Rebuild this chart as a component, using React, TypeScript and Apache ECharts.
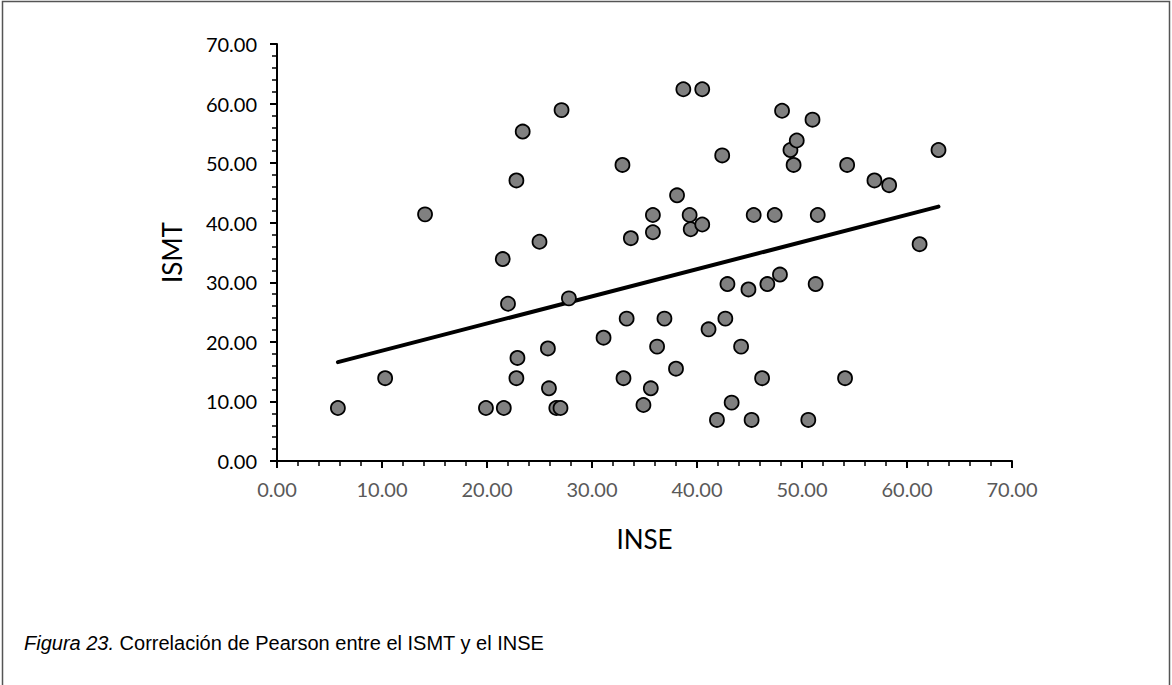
import React, { useEffect, useRef } from "react";
import * as echarts from "echarts";

const inse: number[] = [
  5.8, 10.3, 14.1, 19.9, 21.5, 21.6, 22.0, 22.8, 22.9, 22.8, 23.4, 25.0, 25.8, 25.9, 26.6, 27.0,
  27.1, 27.8, 31.1, 32.9, 33.0, 33.3, 33.7, 34.9, 35.6, 35.8, 35.8, 36.2, 36.9, 38.0, 38.1, 38.7,
  39.3, 39.4, 40.5, 40.5, 41.1, 41.9, 42.4, 42.7, 42.9, 43.3, 44.2, 44.9, 45.2, 45.4, 46.2, 46.7,
  47.4, 47.9, 48.1, 48.9, 49.2, 49.5, 50.6, 51.0, 51.3, 51.5, 54.1, 54.3, 56.9, 58.3, 61.2, 63.0,
];
const ismt: number[] = [
  8.9, 13.9, 41.4, 8.9, 33.9, 8.9, 26.4, 47.1, 17.3, 13.9, 55.3, 36.8, 18.9, 12.2, 8.9, 8.9,
  58.9, 27.3, 20.7, 49.7, 13.9, 23.9, 37.4, 9.4, 12.2, 41.3, 38.4, 19.2, 23.9, 15.5, 44.6, 62.4,
  41.3, 38.9, 62.4, 39.7, 22.1, 6.9, 51.3, 23.9, 29.7, 9.8, 19.2, 28.8, 6.9, 41.3, 13.9, 29.7,
  41.3, 31.3, 58.8, 52.2, 49.7, 53.8, 6.9, 57.3, 29.7, 41.3, 13.9, 49.7, 47.1, 46.3, 36.4, 52.2,
];
const trendX: number[] = [5.8, 63.0];
const trendY: number[] = [16.6, 42.7];

const xName = "INSE";
const yName = "ISMT";
const captionLead = "Figura 23.";
const captionRest = " Correlación de Pearson entre el ISMT y el INSE";

const tickFont = "Lato, 'Open Sans', sans-serif";

export default function App() {
  const ref = useRef<HTMLDivElement>(null);

  useEffect(() => {
    if (!ref.current) return;
    const chart = echarts.init(ref.current, undefined, { renderer: "svg" });
    const fmt = (v: number) => v.toFixed(2);
    const axisBase = {
      type: "value" as const,
      min: 0,
      max: 70,
      interval: 10,
      splitLine: { show: false },
    };
    chart.setOption({
      animation: false,
      backgroundColor: "#ffffff",
      grid: { left: 277, right: 160, top: 44, bottom: 224, containLabel: false },
      xAxis: [
        {
          ...axisBase,
          name: xName,
          nameLocation: "middle",
          nameGap: 65,
          nameTextStyle: { fontFamily: tickFont, fontSize: 26, color: "#000000" },
          axisLine: { show: true, lineStyle: { color: "#000000", width: 2 } },
          axisTick: { show: true, inside: false, length: 7, lineStyle: { color: "#000000", width: 2 } },
          axisLabel: { formatter: fmt, margin: 18, fontFamily: tickFont, fontSize: 20, color: "#595959" },
        },
        {
          ...axisBase,
          axisLine: { show: false },
          axisTick: { show: true, inside: true, length: 7, lineStyle: { color: "#000000", width: 2 } },
          minorTick: { show: true, splitNumber: 5, length: 5, lineStyle: { color: "#000000", width: 1.5 } },
          axisLabel: { show: false },
        },
      ],
      yAxis: [
        {
          ...axisBase,
          name: yName,
          nameLocation: "middle",
          nameGap: 92,
          nameRotate: 90,
          nameTextStyle: { fontFamily: tickFont, fontSize: 26, color: "#000000" },
          axisLine: { show: true, lineStyle: { color: "#000000", width: 2 } },
          axisTick: { show: true, inside: false, length: 7, lineStyle: { color: "#000000", width: 2 } },
          axisLabel: { formatter: fmt, margin: 20, fontFamily: tickFont, fontSize: 20, color: "#000000" },
        },
        {
          ...axisBase,
          axisLine: { show: false },
          axisTick: { show: true, inside: true, length: 7, lineStyle: { color: "#000000", width: 2 } },
          minorTick: { show: true, splitNumber: 5, length: 5, lineStyle: { color: "#000000", width: 1.5 } },
          axisLabel: { show: false },
        },
      ],
      series: [
        {
          type: "line",
          xAxisIndex: 0,
          yAxisIndex: 0,
          data: trendX.map((x, i) => [x, trendY[i]]),
          symbol: "none",
          lineStyle: { color: "#000000", width: 4, cap: "round" },
          z: 2,
        },
        {
          type: "scatter",
          xAxisIndex: 0,
          yAxisIndex: 0,
          data: inse.map((x, i) => [x, ismt[i]]),
          symbol: "circle",
          symbolSize: 14,
          itemStyle: { color: "#808080", borderColor: "#000000", borderWidth: 1.8, opacity: 1 },
          z: 3,
        },
      ],
      graphic: [
        {
          type: "rect",
          shape: { x: 2.5, y: 1.5, width: 1167, height: 690 },
          style: { fill: "none", stroke: "#555555", lineWidth: 1.5 },
          silent: true,
        },
        {
          type: "text",
          left: 24,
          top: 633,
          style: {
            text: "{i|" + captionLead + "}{n|" + captionRest + "}",
            rich: {
              i: { fontFamily: "'Liberation Sans', Arial, sans-serif", fontStyle: "italic", fontSize: 20, fill: "#000000" },
              n: { fontFamily: "'Liberation Sans', Arial, sans-serif", fontSize: 20, fill: "#000000" },
            },
          },
        },
      ],
    });
    return () => chart.dispose();
  }, []);

  return (
    <div
      ref={ref}
      style={{ position: "fixed", left: 0, top: 0, width: 1172, height: 685, background: "#ffffff" }}
    />
  );
}
